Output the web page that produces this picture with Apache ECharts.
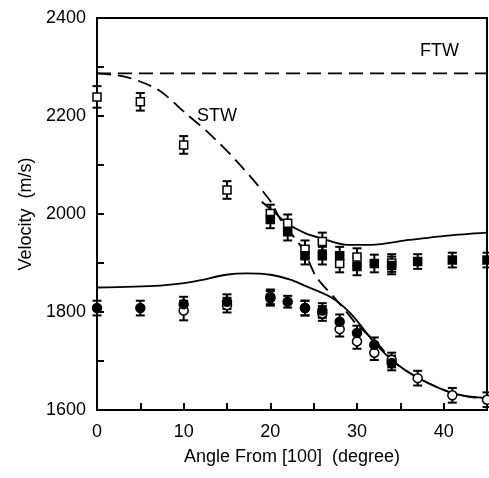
<!DOCTYPE html>
<html>
<head>
<meta charset="utf-8">
<script src="https://cdn.jsdelivr.net/npm/echarts@6/dist/echarts.min.js"></script>
<style>
html,body{margin:0;padding:0;background:#fff;}
#chart{width:489px;height:478px;}
</style>
</head>
<body>
<div id="chart"></div>
<script>
// ---- data ----
const openSqX   = [0, 5, 10, 15, 20, 22, 24, 26, 28, 30, 34];
const openSqY   = [2239, 2229, 2141, 2049, 2001, 1981, 1928, 1944, 1899, 1912, 1900];
const openSqErr = [22, 18, 18, 18, 18, 18, 18, 18, 18, 18, 18];

const filledSqX   = [20, 22, 24, 26, 28, 30, 32, 34, 37, 41, 45];
const filledSqY   = [1989, 1964, 1915, 1915, 1915, 1893, 1899, 1895, 1903, 1906, 1906];
const filledSqErr = [18, 18, 18, 18, 18, 18, 18, 18, 15, 15, 15];

const filledCirX   = [0, 5, 10, 15, 20, 22, 24, 26, 28, 30, 32, 34];
const filledCirY   = [1808, 1808, 1816, 1821, 1828, 1821, 1808, 1803, 1780, 1757, 1733, 1696];
const filledCirErr = [15, 15, 15, 15, 15, 12, 15, 15, 15, 15, 15, 15];

const openCirX   = [10, 15, 20, 24, 26, 28, 30, 32, 34, 37, 41, 45];
const openCirY   = [1803, 1814, 1831, 1808, 1797, 1765, 1740, 1717, 1702, 1665, 1630, 1621];
const openCirErr = [20, 15, 15, 15, 15, 15, 15, 15, 15, 15, 15, 15];

const ftwX = [0, 45];
const ftwY = [2287, 2287];

const stwX = [0, 3.3, 7.1, 10.2, 12.9, 16, 19.9, 21.2, 23.8, 25.3, 27.6, 29.2, 30, 32.3, 34.2, 37.1, 41.1, 45];
const stwY = [2287, 2280, 2253, 2206, 2165, 2110, 2029, 1988, 1927, 1872, 1825, 1791, 1774, 1737, 1699, 1665, 1634, 1622];

const upperX = [19, 20.5, 22, 24, 25.8, 28.9, 31.6, 36, 40.5, 45];
const upperY = [2025, 2003, 1980, 1961, 1951, 1937, 1937, 1947, 1956, 1962];

const lowerX = [0, 7.3, 11.1, 14.9, 17.3, 20, 22.3, 23.8, 26.9, 29.2, 31.9, 34.2, 37.1, 41.1, 45];
const lowerY = [1850, 1854, 1862, 1876, 1879, 1876, 1866, 1855, 1831, 1798, 1740, 1699, 1665, 1634, 1624];

const xTickLabels = ['0', '10', '20', '30', '40'];
const yTickLabels = ['1600', '1800', '2000', '2200', '2400'];

// ---- helpers ----
const zip = (xs, ys) => xs.map((x, i) => [x, ys[i]]);
const errData = (xs, ys, es) => xs.map((x, i) => [x, ys[i] - es[i], ys[i] + es[i]]);

function errRender(params, api) {
  const x = api.value(0);
  const lo = api.coord([x, api.value(1)]);
  const hi = api.coord([x, api.value(2)]);
  const hw = 4.5;
  const st = {stroke: '#000', lineWidth: 2};
  return {
    type: 'group',
    children: [
      {type: 'line', shape: {x1: lo[0], y1: lo[1], x2: hi[0], y2: hi[1]}, style: st},
      {type: 'line', shape: {x1: lo[0]-hw, y1: lo[1], x2: lo[0]+hw, y2: lo[1]}, style: st},
      {type: 'line', shape: {x1: hi[0]-hw, y1: hi[1], x2: hi[0]+hw, y2: hi[1]}, style: st}
    ]
  };
}

const FONT = 'Liberation Sans, Arial, sans-serif';
const chart = echarts.init(document.getElementById('chart'), null, {renderer: 'canvas'});

const lineStyleSolid = {color: '#000', width: 1.8, type: 'solid'};
const lineStyleDash = {color: '#000', width: 1.8, type: [14, 7]};

function errSeries(xs, ys, es) {
  return {type: 'custom', renderItem: errRender, data: errData(xs, ys, es), z: 3, silent: true};
}
function markerSeries(xs, ys, symbol, filled, size) {
  return {
    type: 'scatter', data: zip(xs, ys), symbol: symbol, symbolSize: size,
    itemStyle: {color: filled ? '#000' : '#fff', borderColor: '#000', borderWidth: 1.5, opacity: 1},
    z: 4, silent: true
  };
}
function lineSeries(xs, ys, style, smooth) {
  return {type: 'line', data: zip(xs, ys), showSymbol: false, symbol: 'none', smooth: smooth,
          lineStyle: style, z: 2, silent: true};
}

chart.setOption({
  animation: false,
  backgroundColor: '#fff',
  grid: {left: 97, top: 18, right: 2, bottom: 68, show: true, borderColor: '#000', borderWidth: 2, backgroundColor: 'transparent'},
  xAxis: {
    type: 'value', min: 0, max: 45, interval: 5,
    axisLine: {show: true, onZero: false, lineStyle: {color: '#000', width: 2}},
    axisTick: {show: true, inside: true, length: 7, lineStyle: {color: '#000', width: 2}},
    splitLine: {show: false},
    axisLabel: {
      color: '#000', fontFamily: FONT, fontSize: 18, margin: 13,
      showMaxLabel: false,
      formatter: v => (v % 10 === 0 ? xTickLabels[v / 10] : '')
    },
    name: 'Angle From [100]  (degree)', nameLocation: 'middle', nameGap: 38,
    nameTextStyle: {color: '#000', fontFamily: FONT, fontSize: 18}
  },
  yAxis: {
    type: 'value', min: 1600, max: 2400, interval: 100,
    axisLine: {show: true, onZero: false, lineStyle: {color: '#000', width: 2}},
    axisTick: {show: true, inside: true, length: 7, lineStyle: {color: '#000', width: 2}},
    splitLine: {show: false},
    axisLabel: {
      color: '#000', fontFamily: FONT, fontSize: 18, margin: 11,
      formatter: v => ((v - 1600) % 200 === 0 ? yTickLabels[(v - 1600) / 200] : '')
    },
    name: 'Velocity  (m/s)', nameLocation: 'middle', nameGap: 62,
    nameTextStyle: {color: '#000', fontFamily: FONT, fontSize: 18}
  },
  graphic: [
    {type: 'text', left: 420, top: 42, style: {text: 'FTW', fontFamily: FONT, fontSize: 18, fill: '#000'}},
    {type: 'text', left: 197, top: 107, style: {text: 'STW', fontFamily: FONT, fontSize: 18, fill: '#000'}}
  ],
  series: [
    lineSeries(ftwX, ftwY, lineStyleDash, false),
    lineSeries(stwX, stwY, lineStyleDash, 0.3),
    lineSeries(upperX, upperY, lineStyleSolid, 0.3),
    lineSeries(lowerX, lowerY, lineStyleSolid, 0.3),
    errSeries(openSqX, openSqY, openSqErr),
    errSeries(filledSqX, filledSqY, filledSqErr),
    errSeries(filledCirX, filledCirY, filledCirErr),
    errSeries(openCirX, openCirY, openCirErr),
    markerSeries(openSqX, openSqY, 'rect', false, 8),
    markerSeries(filledSqX, filledSqY, 'rect', true, 8),
    markerSeries(openCirX, openCirY, 'circle', false, 9),
    markerSeries(filledCirX, filledCirY, 'circle', true, 9)
  ]
});
</script>
</body>
</html>
